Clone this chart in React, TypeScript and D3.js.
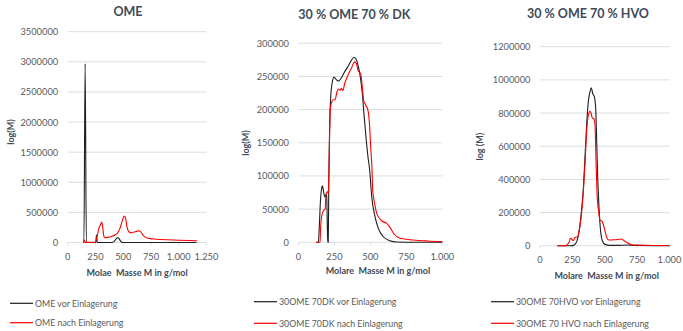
import React from "react";
import * as d3 from "d3";

const FONT = "Lato, 'Liberation Sans', sans-serif";
const TEXT = "#595959";
const TITLE = "#404a58";
const GRID = "#dadde2";
const BLACK = "#1e1e1e";
const RED = "#ff0000";

// ---- OME ----
const omeVorM = [140, 146, 157, 168, 172, 250, 253, 259, 266, 270, 400, 420, 440, 450, 460, 475, 490, 700, 1160];
const omeVorY = [0, 0, 2970000, 0, 0, 0, 0, 122000, 0, 0, 0, 22000, 70000, 84000, 70000, 28000, 0, 0, 0];
const omeNachM = [140, 146, 150, 155, 162, 200, 245, 255, 268, 280, 295, 307, 315, 325, 335, 360, 400, 430, 450, 470, 490, 505, 512, 522, 535, 550, 565, 590, 620, 640, 655, 675, 700, 740, 800, 900, 1000, 1100, 1166];
const omeNachY = [0, 10000, 45000, 10000, 2000, 2000, 3000, 30000, 130000, 230000, 290000, 338000, 260000, 110000, 80000, 85000, 105000, 130000, 160000, 230000, 350000, 430000, 440000, 400000, 250000, 180000, 160000, 170000, 185000, 195000, 185000, 130000, 85000, 65000, 55000, 45000, 38000, 33000, 30000];

// ---- 30 % OME 70 % DK ----
const dkVorM = [125, 138, 145, 152, 160, 166, 172, 180, 185, 190, 196, 200, 203, 207, 211, 217, 224, 233, 247, 263, 279, 298, 321, 344, 367, 386, 398, 414, 430, 444, 455, 467, 483, 495, 509, 532, 555, 590, 636, 683, 800, 1000];
const dkVorY = [0, 0, 25000, 60000, 80000, 85000, 80000, 70000, 68000, 72000, 70000, 30000, 0, 0, 100000, 180000, 219000, 239000, 249000, 245000, 243000, 248000, 257000, 265000, 274000, 279000, 277000, 267000, 249000, 224000, 194000, 164000, 129000, 109000, 69000, 38600, 21000, 8400, 2400, 500, 0, 0];
const dkNachM = [122, 150, 154, 161, 168, 177, 185, 191, 200, 204, 207, 212, 217, 221, 227, 233, 240, 254, 268, 279, 289, 298, 309, 321, 344, 367, 391, 402, 414, 432, 444, 453, 465, 483, 495, 502, 511, 516, 530, 544, 578, 613, 636, 664, 706, 799, 900, 1000];
const dkNachY = [0, 0, 23500, 38600, 45000, 48700, 50000, 71000, 76000, 76000, 74000, 110000, 170000, 200000, 209000, 212000, 215000, 215000, 227000, 231000, 229000, 232000, 229000, 239000, 252000, 262000, 272000, 270000, 259000, 254000, 234000, 214000, 208000, 199000, 174000, 144000, 111000, 78700, 58000, 43700, 32500, 28600, 22600, 12500, 6000, 3500, 2000, 1000];

// ---- 30 % OME 70 % HVO ----
const hvoVorM = [134, 230, 257, 283, 301, 317, 335, 347, 360, 373, 386, 396, 407, 420, 430, 438, 445, 456, 466, 481, 502, 540, 600, 670, 750, 1000];
const hvoVorY = [0, 0, 2000, 24000, 84000, 185000, 346000, 527000, 727000, 868000, 928000, 952000, 918000, 898000, 828000, 627000, 426000, 225000, 105000, 30000, 8000, 2000, 2000, 4000, 1000, 0];
const hvoNachM = [134, 200, 215, 226, 235, 245, 257, 270, 288, 301, 317, 335, 347, 360, 373, 386, 394, 404, 417, 425, 432, 440, 453, 463, 481, 497, 515, 533, 579, 631, 650, 669, 708, 800, 1000];
const hvoNachY = [0, 0, 10000, 24000, 44000, 40000, 30000, 50000, 52000, 84000, 167000, 330000, 486000, 687000, 787000, 811000, 800000, 771000, 765000, 727000, 527000, 325000, 205000, 155000, 145000, 105000, 50000, 34000, 36000, 40000, 30000, 20000, 6000, 3000, 1000];

// ---- axes ----
const omeXTicks = [0, 250, 500, 750, 1000, 1250];
const omeYTicks = [0, 500000, 1000000, 1500000, 2000000, 2500000, 3000000, 3500000];
const dkXTicks = [0, 250, 500, 750, 1000];
const dkYTicks = [0, 50000, 100000, 150000, 200000, 250000, 300000];
const hvoXTicks = [0, 250, 500, 750, 1000];
const hvoYTicks = [0, 200000, 400000, 600000, 800000, 1000000, 1200000];

const de = d3.formatLocale({ decimal: ",", thousands: ".", grouping: [3], currency: ["", " €"] });
const fmtX = de.format(",d");
const fmtY = d3.format("d");

const zip = (xs: number[], ys: number[]) => xs.map((m, i) => [m, ys[i]] as [number, number]);

type Series = { data: [number, number][]; color: string; label: string };

type PanelProps = {
  title: string;
  titleX: number;
  titleY: number;
  yTitle: string;
  yTitleX: number;
  yTitleY: number;
  xTitle: string;
  xTitleX: number;
  xTitleY: number;
  left: number;
  right: number;
  top: number;
  bottom: number;
  xTicks: number[];
  yTicks: number[];
  series: Series[];
  legendX: number;
  legendY: number[];
};

function Panel(p: PanelProps) {
  const x = d3.scaleLinear().domain([0, p.xTicks[p.xTicks.length - 1]]).range([p.left, p.right]);
  const y = d3.scaleLinear().domain([0, p.yTicks[p.yTicks.length - 1]]).range([p.bottom, p.top]);
  const line = d3
    .line<[number, number]>()
    .x((d) => x(d[0]))
    .y((d) => y(d[1]))
    .curve(d3.curveMonotoneX);
  return (
    <g fontFamily={FONT}>
      <text x={p.titleX} y={p.titleY} textAnchor="middle" dominantBaseline="central" fontSize={12.5} fontWeight="bold" fill={TITLE}>
        {p.title}
      </text>
      {p.yTicks.map((t) => (
        <g key={"y" + t}>
          {t > 0 && <line x1={p.left} x2={p.right} y1={y(t)} y2={y(t)} stroke={GRID} strokeWidth={1} />}
          <text x={p.left - 9.5} y={y(t)} textAnchor="end" dominantBaseline="central" fontSize={9.3} fill={TEXT}>
            {fmtY(t)}
          </text>
        </g>
      ))}
      <line x1={p.left} x2={p.right} y1={p.bottom} y2={p.bottom} stroke={GRID} strokeWidth={1} />
      {p.xTicks.map((t) => (
        <g key={"x" + t}>
          <line x1={x(t)} x2={x(t)} y1={p.bottom} y2={p.bottom + 3} stroke={GRID} strokeWidth={1} />
          <text x={x(t)} y={p.bottom + 14} textAnchor="middle" dominantBaseline="central" fontSize={9.3} fill={TEXT}>
            {fmtX(t)}
          </text>
        </g>
      ))}
      <text
        transform={`translate(${p.yTitleX},${p.yTitleY}) rotate(-90)`}
        textAnchor="middle"
        dominantBaseline="central"
        fontSize={9}
        fontWeight="bold"
        fill={TITLE}
        style={{ whiteSpace: "pre" }}
      >
        {p.yTitle}
      </text>
      <text x={p.xTitleX} y={p.xTitleY} textAnchor="middle" dominantBaseline="central" fontSize={9} fontWeight="bold" fill={TITLE} style={{ whiteSpace: "pre" }}>
        {p.xTitle}
      </text>
      {p.series.map((s, i) => (
        <path key={"s" + i} d={line(s.data) || ""} fill="none" stroke={s.color} strokeWidth={1.1} strokeLinejoin="round" />
      ))}
      {p.series.map((s, i) => (
        <g key={"l" + i}>
          <line x1={p.legendX} x2={p.legendX + 23} y1={p.legendY[i]} y2={p.legendY[i]} stroke={s.color} strokeWidth={1.2} />
          <text x={p.legendX + 25} y={p.legendY[i]} dominantBaseline="central" fontSize={8.8} fill={TEXT}>
            {s.label}
          </text>
        </g>
      ))}
    </g>
  );
}

export default function App() {
  return (
    <div style={{ position: "absolute", left: 0, top: 0 }}>
      <svg width={683} height={331} style={{ display: "block", background: "#fff" }}>
        <Panel
          title="OME"
          titleX={128}
          titleY={11}
          yTitle="log(M)"
          yTitleX={10}
          yTitleY={132}
          xTitle="Molae  Masse M in g/mol"
          xTitleX={137}
          xTitleY={272.7}
          left={67.7}
          right={206.5}
          top={31.7}
          bottom={242.5}
          xTicks={omeXTicks}
          yTicks={omeYTicks}
          series={[
            { data: zip(omeVorM, omeVorY), color: BLACK, label: "OME vor Einlagerung" },
            { data: zip(omeNachM, omeNachY), color: RED, label: "OME nach Einlagerung" },
          ]}
          legendX={10}
          legendY={[303.3, 322.7]}
        />
        <Panel
          title="30 % OME 70 % DK"
          titleX={354.3}
          titleY={14}
          yTitle="log(M)"
          yTitleX={245}
          yTitleY={143}
          xTitle="Molare  Masse M in g/mol"
          xTitleX={378}
          xTitleY={270.7}
          left={298.5}
          right={442.3}
          top={43.3}
          bottom={242.3}
          xTicks={dkXTicks}
          yTicks={dkYTicks}
          series={[
            { data: zip(dkVorM, dkVorY), color: BLACK, label: "30OME 70DK vor Einlagerung" },
            { data: zip(dkNachM, dkNachY), color: RED, label: "30OME 70DK nach Einlagerung" },
          ]}
          legendX={254}
          legendY={[301.7, 323.3]}
        />
        <Panel
          title="30 % OME 70 % HVO"
          titleX={588}
          titleY={13.3}
          yTitle="log (M)"
          yTitleX={479}
          yTitleY={146.7}
          xTitle="Molare  Masse M in g/mol"
          xTitleX={606.7}
          xTitleY={275}
          left={540}
          right={669.5}
          top={46.7}
          bottom={245.7}
          xTicks={hvoXTicks}
          yTicks={hvoYTicks}
          series={[
            { data: zip(hvoVorM, hvoVorY), color: BLACK, label: "30OME 70HVO vor Einlagerung" },
            { data: zip(hvoNachM, hvoNachY), color: RED, label: "30OME 70 HVO nach Einlagerung" },
          ]}
          legendX={491}
          legendY={[301.7, 323.3]}
        />
      </svg>
    </div>
  );
}
